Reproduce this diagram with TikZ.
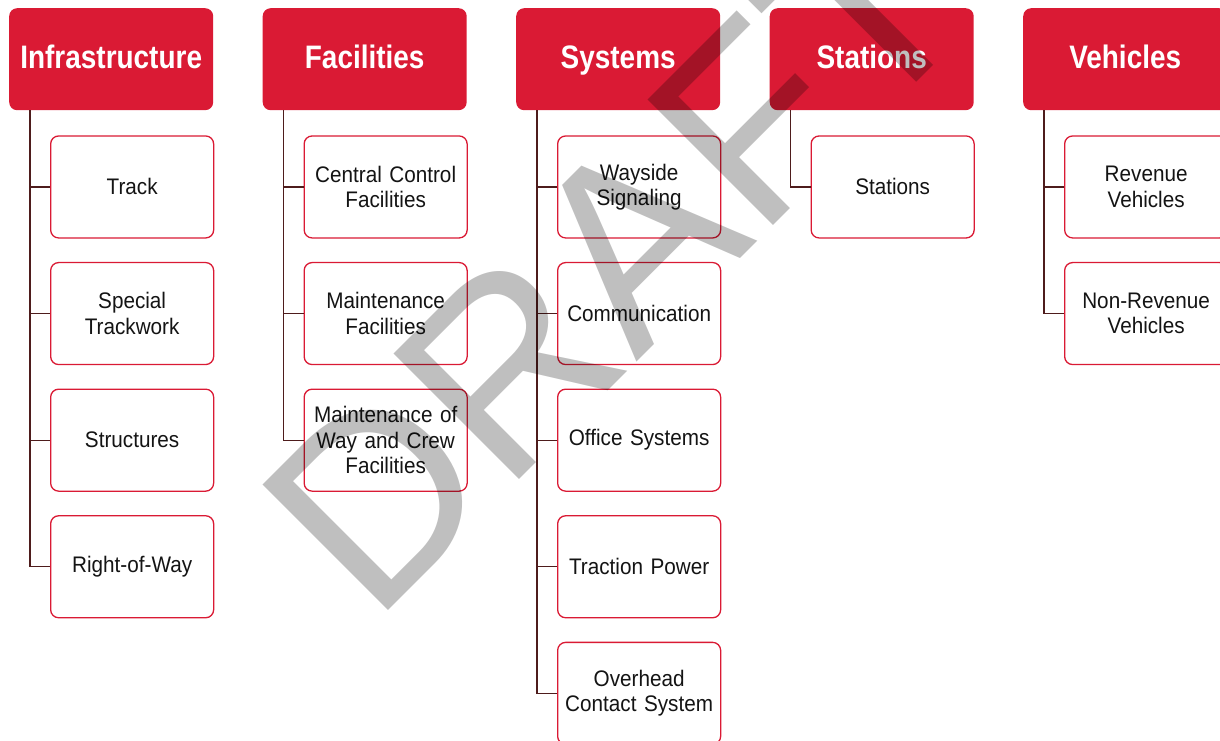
\documentclass[tikz,border=0pt]{standalone}
\usepackage{fontspec}
\setmainfont{Liberation Sans}[FakeStretch=0.92]
\newfontfamily\hfont{Liberation Sans}[FakeStretch=0.86]
\newfontfamily\wmfont{Liberation Sans}
\definecolor{hred}{RGB}{218,26,52}
\definecolor{connc}{RGB}{78,28,28}
\tikzset{
  hdr/.style={rectangle, rounded corners=8pt, fill=hred, minimum width=204pt, minimum height=102pt,
    anchor=north west, inner sep=0pt, text=white, text height=23.5pt, text depth=5pt,
    font=\hfont\bfseries\fontsize{32.5}{36}\selectfont},
  item/.style={rectangle, rounded corners=8pt, draw=hred, line width=1.3pt, fill=white,
    minimum width=163pt, minimum height=102pt, anchor=north west, inner sep=0pt,
    text width=160pt, align=center, text=black!92, font=\fontsize{22.5}{25.5}\selectfont},
  conn/.style={draw=connc, line width=1.3pt},
  wmark/.style={anchor=base west, inner sep=0pt, rotate=45, text=black, text opacity=0.25,
    font=\wmfont\fontsize{258}{258}\selectfont}
}
\begin{document}
\begin{tikzpicture}[x=1pt,y=-1pt]
\useasboundingbox (0,0) rectangle (1220,740);
\clip (0,0) rectangle (1220,740);
% headers
\node[hdr] (h1) at (9,8) {Infrastructure};
\node[hdr] (h2) at (262.5,8) {Facilities};
\node[hdr] (h3) at (516,8) {Systems};
\node[hdr] (h4) at (769.5,8) {Stations};
\node[hdr] (h5) at (1023,8) {Vehicles};
% column 1
\node[item] (c1a) at (50,135.3) {Track};
\node[item] (c1b) at (50,261.9) {Special\\Trackwork};
\node[item] (c1c) at (50,388.5) {Structures};
\node[item] (c1d) at (50,515.1) {Right-of-Way};
% column 2
\node[item] (c2a) at (303.5,135.3) {Central Control\\Facilities};
\node[item] (c2b) at (303.5,261.9) {Maintenance\\Facilities};
\node[item] (c2c) at (303.5,388.5) {Maintenance of\\Way and Crew\\Facilities};
% column 3
\node[item] (c3a) at (557,135.3) {Wayside\\Signaling};
\node[item] (c3b) at (557,261.9) {Communication};
\node[item] (c3c) at (557,388.5) {Office Systems};
\node[item] (c3d) at (557,515.1) {Traction Power};
\node[item] (c3e) at (557,641.7) {Overhead\\Contact System};
% column 4
\node[item] (c4a) at (810.5,135.3) {Stations};
% column 5
\node[item] (c5a) at (1064,135.3) {Revenue\\Vehicles};
\node[item] (c5b) at (1064,261.9) {Non-Revenue\\Vehicles};
% connectors
\foreach \c in {c1a,c1b,c1c,c1d} \draw[conn] ([xshift=21pt]h1.south west) |- (\c.west);
\foreach \c in {c2a,c2b,c2c} \draw[conn] ([xshift=21pt]h2.south west) |- (\c.west);
\foreach \c in {c3a,c3b,c3c,c3d,c3e} \draw[conn] ([xshift=21pt]h3.south west) |- (\c.west);
\foreach \c in {c4a} \draw[conn] ([xshift=21pt]h4.south west) |- (\c.west);
\foreach \c in {c5a,c5b} \draw[conn] ([xshift=21pt]h5.south west) |- (\c.west);
% watermark
\node[wmark] (wm) at (373,626) {DRAFT};
\end{tikzpicture}
\end{document}
